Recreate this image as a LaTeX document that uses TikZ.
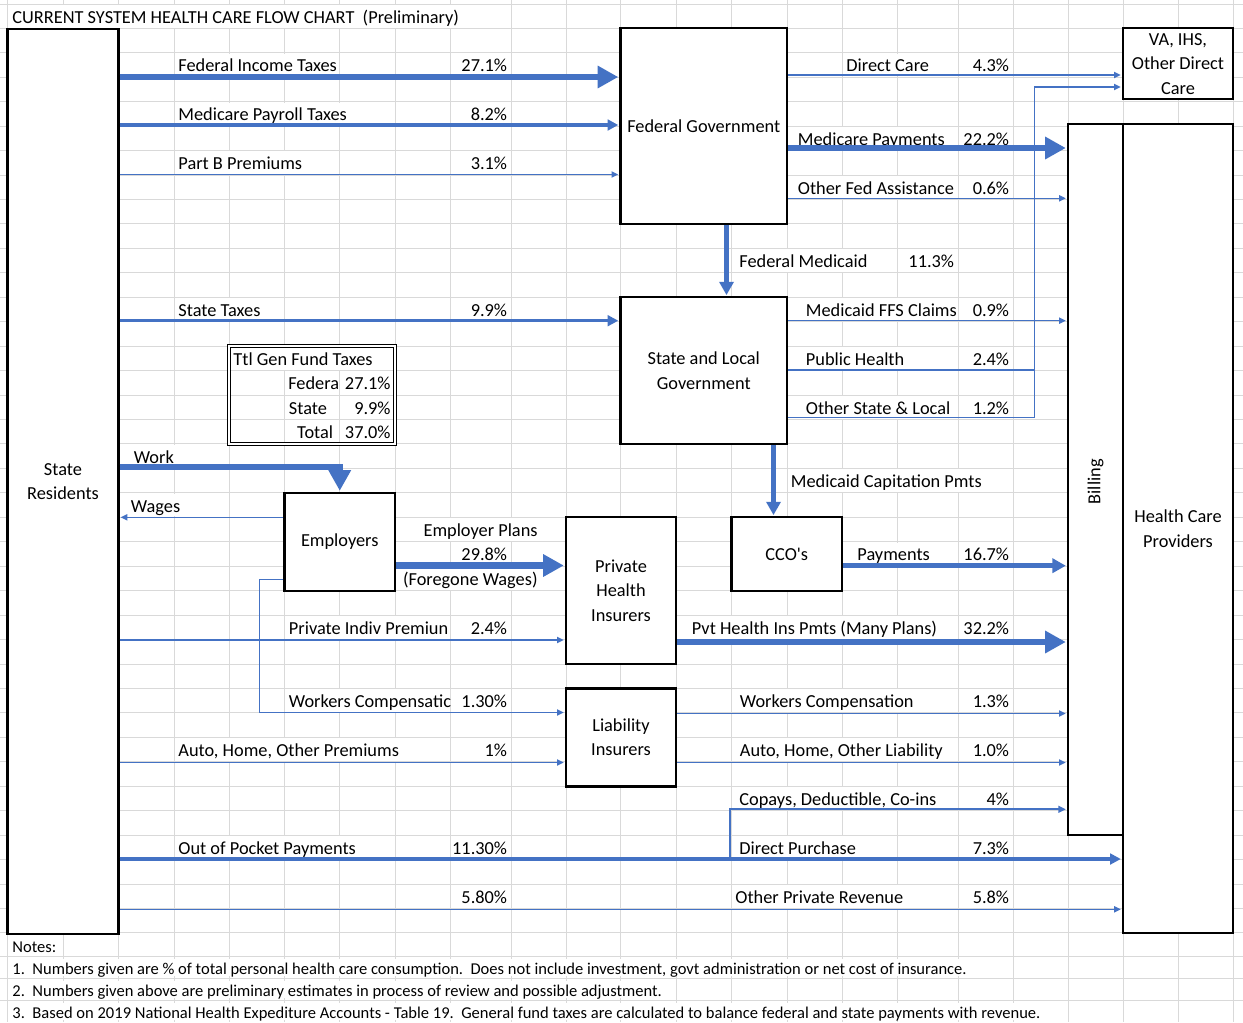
\documentclass[tikz,border=0pt]{standalone}
\usepackage{fontspec}
\setmainfont{Carlito}
\usepackage{tikz}
\usetikzlibrary{arrows.meta}
\frenchspacing
\definecolor{flow}{HTML}{4472C4}
\definecolor{gridgray}{HTML}{D9D9D9}
\newcommand\cellfont{\fontsize{13.75}{18.34}\selectfont}
\newcommand\notefont{\fontsize{12.4}{15}\selectfont}
\tikzstyle{gridline}=[draw=gridgray,line width=0.75pt]
\tikzstyle{cellbox}=[draw=black,line width=1.7pt,fill=white,inner sep=0pt,align=center,font=\cellfont]
\tikzstyle{celltxt}=[fill=white,inner xsep=0.5pt,inner ysep=2pt,text height=11.7pt,text depth=1.3pt,font=\cellfont]
\tikzstyle{notetxt}=[fill=white,inner xsep=0.5pt,inner ysep=0.8pt,text height=11pt,text depth=0pt,font=\notefont]
\tikzstyle{flowline}=[draw=flow,line width=1pt]
\tikzstyle{flowthin}=[draw=flow,line width=1pt,shorten >=0.8pt,-{Triangle[length=5pt,width=4.6pt]}]
\tikzstyle{flowcopay}=[draw=flow,line width=1.3pt,shorten >=0.8pt,-{Triangle[length=5.5pt,width=5pt]}]
\tikzstyle{flowmid}=[draw=flow,line width=2.5pt,shorten >=0.8pt,-{Triangle[length=8pt,width=8pt]}]
\tikzstyle{flowbar}=[draw=flow,line width=3.4pt,shorten >=0.8pt,-{Triangle[length=10pt,width=10.5pt]}]
\tikzstyle{flowfat}=[draw=flow,line width=4.6pt,shorten >=0.8pt,-{Triangle[length=15.5pt,width=16pt]}]

\begin{document}
\begin{tikzpicture}[x=0.75pt,y=-0.75pt]
  \useasboundingbox (0,0) rectangle (1243,1022);
  \fill[white] (0,0) rectangle (1243,1022);

  % sheet grid
  \foreach \xx in {7,63,118.5,174,229,284.5,339.5,395,450,511,566,620.5,676,731.5,787,842,897,958,1013,1068,1123,1178,1233}
    \draw[gridline] (\xx,0) -- (\xx,1022);
  \foreach \k in {1,...,38} {
    \pgfmathsetmacro\yy{28.3+24.45*(\k-1)}
    \draw[gridline] (0,\yy) -- (1243,\yy);
  }
  \foreach \yy in {4,956.7,978.3,1000.7}
    \draw[gridline] (0,\yy) -- (1243,\yy);

  % cell texts
  \node[celltxt,anchor=west] (title) at (11.5,16.2) {CURRENT SYSTEM HEALTH CARE FLOW CHART\ \ (Preliminary)};

  \node[celltxt,anchor=west] (tFedInc) at (177.5,65.0) {Federal Income Taxes};
  \node[celltxt,anchor=east] (pFedInc) at (508,65.0) {27.1\%};
  \node[celltxt,anchor=west] (tPayroll) at (177.5,113.9) {Medicare Payroll Taxes};
  \node[celltxt,anchor=east] (pPayroll) at (508,113.9) {8.2\%};
  \node[celltxt,anchor=west] (tPartB) at (177.5,162.8) {Part B Premiums};
  \node[celltxt,anchor=east] (pPartB) at (508,162.8) {3.1\%};
  \node[celltxt,anchor=west] (tDirect) at (845.5,65.0) {Direct Care};
  \node[celltxt,anchor=east] (pDirect) at (1010,65.0) {4.3\%};
  \node[celltxt,anchor=west] (tMcarePay) at (797,138.3) {Medicare Payments};
  \node[celltxt,anchor=east] (pMcarePay) at (1010,138.3) {22.2\%};
  \node[celltxt,anchor=west] (tOthFed) at (797,187.2) {Other Fed Assistance};
  \node[celltxt,anchor=east] (pOthFed) at (1010,187.2) {0.6\%};
  \node[celltxt,anchor=west] (tFedMcaid) at (738.5,260.6) {Federal Medicaid};
  \node[celltxt,anchor=east] (pFedMcaid) at (955,260.6) {11.3\%};

  \node[celltxt,anchor=west] (tStTax) at (177.5,309.5) {State Taxes};
  \node[celltxt,anchor=east] (pStTax) at (508,309.5) {9.9\%};
  \node[celltxt,anchor=west] (tFFS) at (805,309.5) {Medicaid FFS Claims};
  \node[celltxt,anchor=east] (pFFS) at (1010,309.5) {0.9\%};
  \node[celltxt,anchor=west] (tPubH) at (805,358.4) {Public Health};
  \node[celltxt,anchor=east] (pPubH) at (1010,358.4) {2.4\%};
  \node[celltxt,anchor=west] (tOthSt) at (805,407.3) {Other State \& Local};
  \node[celltxt,anchor=east] (pOthSt) at (1010,407.3) {1.2\%};

  \node[celltxt,anchor=west] (tTtl) at (232.5,358.4) {Ttl Gen Fund Taxes};
  \node[celltxt,anchor=west,inner xsep=0pt] (tTtlFed) at (288,382.8) {Federa};
  \node[celltxt,anchor=east] (pTtlFed) at (391.5,382.8) {27.1\%};
  \node[celltxt,anchor=west] (tTtlSt) at (288,407.3) {State};
  \node[celltxt,anchor=east] (pTtlSt) at (391.5,407.3) {9.9\%};
  \node[celltxt,anchor=east] (tTtlTot) at (334,431.7) {Total};
  \node[celltxt,anchor=east] (pTtlTot) at (391.5,431.7) {37.0\%};

  \node[celltxt,anchor=west] (tWork) at (133,456.2) {Work};
  \node[celltxt,anchor=west] (tCap) at (790,480.6) {Medicaid Capitation Pmts};
  \node[celltxt,anchor=west] (tWages) at (130,505.1) {Wages};
  \node[celltxt,anchor=east] (tEmpPl) at (538.5,529.5) {Employer Plans};
  \node[celltxt,anchor=east] (pEmpPl) at (508,554.0) {29.8\%};
  \node[celltxt,anchor=east] (tForegone) at (538.5,578.4) {(Foregone Wages)};
  \node[celltxt,anchor=west] (tCCOPay) at (856.5,554.0) {Payments};
  \node[celltxt,anchor=east] (pCCOPay) at (1010,554.0) {16.7\%};

  \begin{scope}
    \clip (284.5,615) rectangle (450,725);
    \node[celltxt,anchor=west] (tIndiv) at (288,627.3) {Private Indiv Premiun};
    \node[celltxt,anchor=west] (tWCin) at (288,700.7) {Workers Compensatic};
  \end{scope}
  \node[celltxt,anchor=east] (pIndiv) at (508,627.3) {2.4\%};
  \node[celltxt,anchor=west] (tPvtPmt) at (691,627.3) {Pvt Health Ins Pmts (Many Plans)};
  \node[celltxt,anchor=east] (pPvtPmt) at (1010,627.3) {32.2\%};
  \node[celltxt,anchor=east] (pWCin) at (508,700.7) {1.30\%};
  \node[celltxt,anchor=west] (tWCout) at (739,700.7) {Workers Compensation};
  \node[celltxt,anchor=east] (pWCout) at (1010,700.7) {1.3\%};
  \node[celltxt,anchor=west] (tAutoIn) at (177.5,749.6) {Auto, Home, Other Premiums};
  \node[celltxt,anchor=east] (pAutoIn) at (508,749.6) {1\%};
  \node[celltxt,anchor=west] (tAutoOut) at (739,749.6) {Auto, Home, Other Liability};
  \node[celltxt,anchor=east] (pAutoOut) at (1010,749.6) {1.0\%};
  \node[celltxt,anchor=west] (tCopay) at (738.5,798.5) {Copays, Deductible, Co-ins};
  \node[celltxt,anchor=east] (pCopay) at (1010,798.5) {4\%};
  \node[celltxt,anchor=west] (tOOP) at (177.5,847.4) {Out of Pocket Payments};
  \node[celltxt,anchor=east] (pOOP) at (508,847.4) {11.30\%};
  \node[celltxt,anchor=west] (tDirPur) at (738.5,847.4) {Direct Purchase};
  \node[celltxt,anchor=east] (pDirPur) at (1010,847.4) {7.3\%};
  \node[celltxt,anchor=east] (pOthPrivIn) at (508,896.3) {5.80\%};
  \node[celltxt,anchor=west] (tOthPriv) at (734.5,896.3) {Other Private Revenue};
  \node[celltxt,anchor=east] (pOthPriv) at (1010,896.3) {5.8\%};

  % notes
  \node[notetxt,anchor=west] (notes) at (11.5,945.3) {Notes:};
  \node[notetxt,anchor=west] (note1) at (11.5,967.5) {1.\ \ Numbers given are \% of total personal health care consumption.\ \ Does not include investment, govt administration or net cost of insurance.};
  \node[notetxt,anchor=west] (note2) at (11.5,989.5) {2.\ \ Numbers given above are preliminary estimates in process of review and possible adjustment.};
  \node[notetxt,anchor=west] (note3) at (11.5,1011.5) {3.\ \ Based on 2019 National Health Expediture Accounts - Table 19.\ \ General fund taxes are calculated to balance federal and state payments with revenue.};

  % boxes
  \node[cellbox,minimum width=83.25pt,minimum height=678.75pt] (resid) at (63,481.5) {State\\Residents};
  \node[cellbox,minimum width=124.9pt,minimum height=146.7pt] (fed) at (703.75,126.1) {Federal Government};
  \node[cellbox,minimum width=82.5pt,minimum height=53.25pt] (va) at (1178,63.8) {VA, IHS,\\Other Direct\\Care};
  \node[cellbox,minimum width=41.25pt,minimum height=533pt] (billing) at (1095.5,479.65) {};
  \node[font=\cellfont,rotate=90,inner sep=0pt] (billtxt) at (billing.center |- 0,481.7) {Billing};
  \node[cellbox,minimum width=82.5pt,minimum height=606.75pt] (hcp) at (1178,528.8) {Health Care\\Providers};
  \node[cellbox,minimum width=124.9pt,minimum height=110pt] (state) at (703.75,370.65) {State and Local\\Government};
  \node[draw,double,line width=0.6pt,double distance=1.4pt,minimum width=124.5pt,minimum height=73.35pt] (ttl) at (312,395.1) {};
  \node[cellbox,minimum width=82.9pt,minimum height=73.35pt] (empl) at (339.75,541.9) {Employers};
  \node[cellbox,minimum width=82.5pt,minimum height=110pt] (phi) at (621,590.65) {Private\\Health\\Insurers};
  \node[cellbox,minimum width=82.9pt,minimum height=55.1pt] (cco) at (786.75,554.05) {CCO\textquotesingle s};
  \node[cellbox,minimum width=82.5pt,minimum height=73.4pt] (liab) at (621,737.45) {Liability\\Insurers};

  % federal money
  \draw[flowfat] (resid.east |- 0,77) -- (fed.west |- 0,77);
  \draw[flowmid] (resid.east |- 0,125) -- (fed.west |- 0,125);
  \draw[flowthin] (resid.east |- 0,174.5) -- (fed.west |- 0,174.5);
  \draw[flowthin] (fed.east |- 0,75) -- (va.west |- 0,75);
  \draw[flowfat] (fed.east |- 0,148) -- (billing.west |- 0,148);
  \draw[flowthin] (fed.east |- 0,198.3) -- (billing.west |- 0,198.3);
  \coordinate (fm) at (726.5,0);
  \draw[flowbar] (fed.south -| fm) -- (state.north -| fm);

  % state money
  \draw[flowmid] (resid.east |- 0,320.7) -- (state.west |- 0,320.7);
  \draw[flowthin] (state.east |- 0,320.7) -- (billing.west |- 0,320.7);
  \coordinate (turn) at (1034.3,87);
  \draw[flowline] (state.east |- 0,370) -- (turn |- 0,370);
  \draw[flowthin] (state.east |- 0,417.3) -| (turn) -- (va.west |- turn);
  \coordinate (mc) at (773.5,0);
  \draw[flowbar] (state.south -| mc) -- (cco.north -| mc);

  % employers
  \draw[flowfat] (resid.east |- 0,467) -| (empl.north);
  \draw[flowthin] (empl.west |- 0,517.3) -- (resid.east |- 0,517.3);
  \draw[flowfat] (empl.east |- 0,565.5) -- (phi.west |- 0,565.5);
  \coordinate (wc) at (259.5,712.5);
  \draw[flowthin] (empl.west |- 0,579.3) -| (wc) -- (liab.west |- wc);

  % insurers
  \draw[flowthin] (resid.east |- 0,640) -- (phi.west |- 0,640);
  \draw[flowthin] (resid.east |- 0,762.5) -- (liab.west |- 0,762.5);
  \draw[flowbar] (cco.east |- 0,565.7) -- (billing.west |- 0,565.7);
  \draw[flowfat] (phi.east |- 0,642) -- (billing.west |- 0,642);
  \draw[flowthin] (liab.east |- 0,713.5) -- (billing.west |- 0,713.5);
  \draw[flowthin] (liab.east |- 0,762.5) -- (billing.west |- 0,762.5);

  % out of pocket
  \draw[flowmid] (resid.east |- 0,859) -- (hcp.west |- 0,859);
  \coordinate (cop) at (730,857);
  \draw[flowcopay] (cop) |- (billing.west |- 0,809.3);
  \draw[flowthin] (resid.east |- 0,909.3) -- (hcp.west |- 0,909.3);
\end{tikzpicture}
\end{document}
